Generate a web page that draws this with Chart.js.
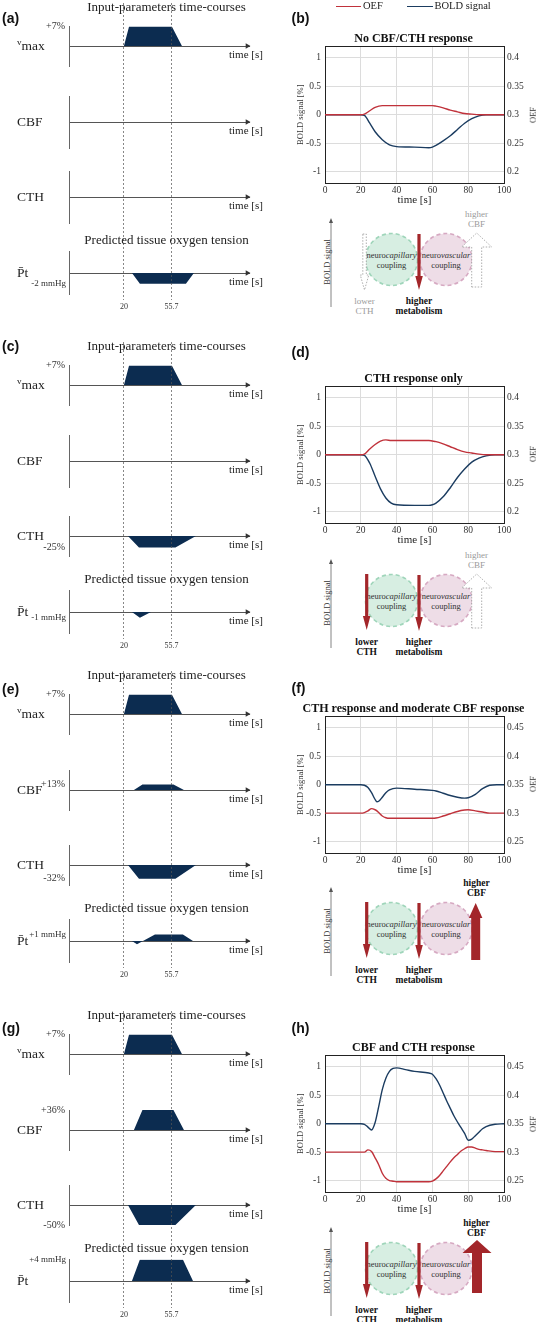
<!DOCTYPE html>
<html>
<head>
<meta charset="utf-8">
<script src="https://cdn.jsdelivr.net/npm/chart.js@4.4.1/dist/chart.umd.min.js"></script>
<style>
body{margin:0;background:#fff;}
#page{position:relative;width:537px;height:1322px;overflow:hidden;font-family:'Liberation Serif','Times New Roman',serif;color:#222;}
#page canvas{position:absolute;}
.t{position:absolute;white-space:nowrap;line-height:1;}
.lbl{font-family:'Liberation Sans',Arial,sans-serif;font-weight:bold;font-size:14px;color:#111;}
</style>
</head>
<body>
<div id="page"><svg id="diag" width="537" height="1322" style="position:absolute;left:0;top:0;font-family:'Liberation Serif',serif"></svg></div>
<script>
// ---- input-parameter time courses (left column) ----
var inT0 = -21.3, inT1 = 114;      // span of the small time axes, s
var markTimes = [20, 55.7];         // dashed reference times, s
var inputNames = ['<span style="font-size:9px;position:relative;top:-5px">v</span>max', 'CBF', 'CTH', 'P\u0304t'];

// vertices: [time s, drawn height relative to axis half-height]
var vmaxOn = [[20,0],[23.8,0.96],[56.1,0.96],[63.6,0]];
var ptA  = [[26,0],[32,-0.5],[66.6,-0.5],[72.6,0]];
var cthC = [[23,0],[31.3,-0.58],[58.7,-0.58],[74.1,0]];
var ptC  = [[26,0],[32,-0.27],[40.3,0]];
var cbfE = [[27.5,0],[33.9,0.28],[57.2,0.28],[65.1,0]];
var cthE = [[23,0],[31.3,-0.69],[58.7,-0.69],[74.1,0]];
var ptE  = [[26,0],[29.8,-0.15],[34.3,0],[43.3,0.3],[64.3,0.3],[71.9,0]];
var cbfG = [[27.5,0],[33.9,1],[57.2,1],[65.1,0]];
var cthG = [[23,0],[31.3,-1],[58.7,-1],[74.1,0]];
var ptG  = [[26,0],[32,1],[64.3,1],[71.9,0]];

var courses = [
  [vmaxOn, [], [], ptA],
  [vmaxOn, [], cthC, ptC],
  [vmaxOn, cbfE, cthE, ptE],
  [vmaxOn, cbfG, cthG, ptG]
];
var courseTicks = [
  ['+7%', '', '', '-2 mmHg'],
  ['+7%', '', '-25%', '-1 mmHg'],
  ['+7%', '+13%', '-32%', '+1 mmHg'],
  ['+7%', '+36%', '-50%', '+4 mmHg']
];

// ---- BOLD / OEF responses (right column) ----
var respTitles = ['No CBF/CTH response', 'CTH response only', 'CTH response and moderate CBF response', 'CBF and CTH response'];
var boldRange = [-1.2, 1.2];
var oefRange = [[0.18, 0.42], [0.18, 0.42], [0.23, 0.47], [0.23, 0.47]];

var tB    = [0, 20, 22, 25, 28, 32, 36, 40, 50, 58, 60, 62, 66, 70, 74, 78, 82, 86, 90, 100];
var boldB = [0, 0, -0.01, -0.15, -0.3, -0.44, -0.53, -0.56, -0.57, -0.58, -0.57, -0.54, -0.46, -0.37, -0.26, -0.15, -0.07, -0.02, 0, 0];
var oefB  = [0.3, 0.3, 0.301, 0.307, 0.313, 0.316, 0.316, 0.316, 0.316, 0.316, 0.316, 0.315, 0.312, 0.308, 0.305, 0.302, 0.301, 0.3, 0.3, 0.3];

var tD    = [0, 20, 22, 25, 28, 31, 34, 37, 40, 50, 58, 60, 62, 66, 70, 74, 78, 82, 86, 90, 95, 100];
var boldD = [0, 0, -0.01, -0.15, -0.38, -0.6, -0.76, -0.85, -0.88, -0.89, -0.89, -0.88, -0.85, -0.74, -0.58, -0.4, -0.25, -0.13, -0.06, -0.02, 0, 0];
var oefD  = [0.3, 0.3, 0.301, 0.31, 0.318, 0.324, 0.326, 0.325, 0.325, 0.325, 0.325, 0.324, 0.323, 0.319, 0.314, 0.309, 0.305, 0.303, 0.301, 0.3, 0.3, 0.3];

var tF    = [0, 20, 22, 24, 26, 28, 29, 30, 32, 34, 36, 40, 50, 60, 62, 66, 70, 74, 78, 80, 84, 88, 92, 96, 100];
var boldF = [0, 0, -0.01, -0.05, -0.14, -0.26, -0.3, -0.29, -0.22, -0.14, -0.09, -0.06, -0.08, -0.1, -0.11, -0.15, -0.19, -0.22, -0.235, -0.23, -0.17, -0.07, -0.01, 0, 0];
var oefF  = [0.3, 0.3, 0.301, 0.304, 0.308, 0.306, 0.304, 0.301, 0.295, 0.292, 0.291, 0.291, 0.291, 0.291, 0.2915, 0.295, 0.299, 0.303, 0.3055, 0.306, 0.304, 0.302, 0.3, 0.3, 0.3];

var tH    = [0, 20, 22, 24, 26, 28, 30, 32, 34, 36, 38, 40, 45, 50, 58, 60, 62, 64, 66, 68, 70, 72, 74, 76, 78, 80, 82, 84, 86, 88, 90, 95, 100];
var boldH = [0, 0, -0.01, -0.06, -0.11, 0.02, 0.3, 0.6, 0.8, 0.92, 0.97, 0.98, 0.95, 0.92, 0.89, 0.87, 0.79, 0.68, 0.54, 0.4, 0.27, 0.14, 0.03, -0.07, -0.17, -0.29, -0.27, -0.21, -0.15, -0.09, -0.05, -0.01, 0];
var oefH  = [0.3, 0.3, 0.3, 0.304, 0.301, 0.29, 0.278, 0.263, 0.254, 0.25, 0.249, 0.248, 0.248, 0.248, 0.248, 0.249, 0.253, 0.259, 0.267, 0.275, 0.283, 0.29, 0.296, 0.302, 0.306, 0.309, 0.309, 0.307, 0.305, 0.304, 0.303, 0.301, 0.301];

var respT = [tB, tD, tF, tH];
var respBold = [boldB, boldD, boldF, boldH];
var respOef = [oefB, oefD, oefF, oefH];

// ---- layout ----
var NAVY = '#0c2c50', RED = '#c0323b', BLUE = '#1b3c60', DARKRED = '#a3262a', GREY = '#9a9a9a';
var leftTop = [0, 339, 668, 1008];
var subBase = [46, 122, 197, 273];
var leftLetterY = [17.5, 345.7, 689.3, 1028.3];
var rightLetterY = [18.3, 351.7, 688.3, 1028.3];
var plotTop = [46.7, 386, 716, 1055.7];
var plotH = 136.5;
var diagTop = [0, 341, 669, 1009];
var letters = ['(a)','(b)','(c)','(d)','(e)','(f)','(g)','(h)'];

Chart.defaults.font.family = "'Liberation Serif','Times New Roman',serif";
Chart.defaults.color = '#222';

var page = document.getElementById('page');

function addCanvas(x, y, w, h) {
  var c = document.createElement('canvas');
  c.width = w; c.height = h;
  c.style.left = x + 'px'; c.style.top = y + 'px';
  c.style.width = w + 'px'; c.style.height = h + 'px';
  page.appendChild(c);
  return c;
}

function txt(x, y, html, css, align, cls) {
  var d = document.createElement('div');
  d.className = 't' + (cls ? ' ' + cls : '');
  d.innerHTML = html;
  if (css) d.style.cssText = css;
  d.style.left = x + 'px'; d.style.top = y + 'px';
  var tx = align === 'c' ? '-50%' : (align === 'r' ? '-100%' : '0');
  d.style.transform = 'translate(' + tx + ',-50%)';
  page.appendChild(d);
  return d;
}

function plainNum(v) { return String(+(+v).toFixed(3)); }

function inputChart(base, course, tick) {
  var c = addCanvas(0, base - 30, 270, 60);
  var pts = [[inT0, 0]].concat(course, [[inT1, 0]]).map(function(p){ return {x: p[0], y: p[1]}; });
  var tickVal = null;
  if (tick) {
    var ys = course.map(function(p){ return p[1]; });
    tickVal = tick.charAt(0) === '+' ? Math.max.apply(null, ys) : Math.min.apply(null, ys);
  }
  var small = tick.indexOf('mmHg') >= 0;
  new Chart(c, {
    type: 'line',
    data: {datasets: [
      {data: pts, fill: 'origin', backgroundColor: NAVY, borderWidth: 0, pointRadius: 0, tension: 0},
      {type: 'scatter', data: [{x: inT1 - 1.3, y: 0}], pointStyle: 'triangle', rotation: 90,
       pointRadius: 3.2, backgroundColor: '#333', borderWidth: 0, clip: false}
    ]},
    options: {
      animation: false, responsive: false, devicePixelRatio: 1,
      layout: {padding: {top: 4, bottom: 4, left: 0, right: 21}},
      plugins: {legend: {display: false}, tooltip: {enabled: false}},
      scales: {
        x: {type: 'linear', min: inT0, max: inT1, position: {y: 0},
            ticks: {display: false}, grid: {display: false, drawTicks: false},
            border: {color: '#555', width: 1}},
        y: {min: -1, max: 1,
            grid: {display: false, drawTicks: false},
            border: {color: '#666', width: 1},
            ticks: {display: !!tick, padding: small ? 3 : 4, font: {size: small ? 9 : 10}, color: '#333',
                    callback: function(){ return tick; }},
            afterBuildTicks: function(s){ if (tickVal !== null) s.ticks = [{value: tickVal}]; },
            afterFit: function(s){ s.width = 69; }}
      }
    }
  });
}

function markChart(top) {
  var c = addCanvas(0, top, 270, 315);
  new Chart(c, {
    type: 'scatter',
    data: {datasets: []},
    options: {
      animation: false, responsive: false, devicePixelRatio: 1,
      layout: {padding: {top: 3, left: 69, right: 21, bottom: 0}},
      plugins: {legend: {display: false}, tooltip: {enabled: false}},
      scales: {
        x: {type: 'linear', min: inT0, max: inT1,
            afterBuildTicks: function(s){ s.ticks = markTimes.map(function(v){ return {value: v}; }); },
            afterFit: function(s){ s.height = 15; },
            grid: {color: '#555', lineWidth: 0.7, drawTicks: false},
            border: {display: false, dash: [2, 2]},
            ticks: {padding: 2, font: {size: 8}, color: '#333', callback: function(v){ return String(v); }}},
        y: {display: false, min: 0, max: 1}
      }
    }
  });
}

function respChart(i) {
  var top = Math.round(plotTop[i] - 16.4);
  var c = addCanvas(290, top, 247, Math.round(16.4 + plotH + 25));
  var t = respT[i];
  new Chart(c, {
    type: 'line',
    data: {datasets: [
      {label: 'OEF', yAxisID: 'yR', data: t.map(function(x, k){ return {x: x, y: respOef[i][k]}; }),
       borderColor: RED, borderWidth: 1.4, pointRadius: 0, cubicInterpolationMode: 'monotone'},
      {label: 'BOLD signal', yAxisID: 'y', data: t.map(function(x, k){ return {x: x, y: respBold[i][k]}; }),
       borderColor: BLUE, borderWidth: 1.4, pointRadius: 0, cubicInterpolationMode: 'monotone'}
    ]},
    options: {
      animation: false, responsive: false, devicePixelRatio: 1,
      layout: {padding: 0},
      plugins: {
        legend: {display: false}, tooltip: {enabled: false},
        title: {display: true, text: respTitles[i], color: '#111',
                font: {size: 12, weight: 'bold'}, padding: {top: 2, bottom: 0}}
      },
      scales: {
        x: {type: 'linear', min: 0, max: 100,
            ticks: {stepSize: 20, padding: 2, font: {size: 9.5}, color: '#333'},
            grid: {color: '#dcdcdc', drawTicks: false},
            border: {color: '#222', width: 1},
            title: {display: true, text: 'time [s]', font: {size: 11}, color: '#222', padding: {top: 0, bottom: 1}},
            afterFit: function(s){ s.height = 25; }},
        xTop: {type: 'linear', position: 'top', min: 0, max: 100,
               ticks: {display: false}, grid: {display: false, drawTicks: false},
               border: {color: '#222', width: 1},
               afterFit: function(s){ s.height = 0; }},
        y: {min: boldRange[0], max: boldRange[1],
            ticks: {stepSize: 0.5, includeBounds: false, padding: 4, font: {size: 9.5}, color: '#333', callback: plainNum},
            grid: {color: '#dcdcdc', drawTicks: false},
            border: {color: '#222', width: 1},
            title: {display: true, text: 'BOLD signal [%]', font: {size: 8.5}, color: '#333', padding: {top: 6, bottom: 0}},
            afterFit: function(s){ s.width = 35; }},
        yR: {position: 'right', min: oefRange[i][0], max: oefRange[i][1],
             ticks: {stepSize: 0.05, includeBounds: false, padding: 3, font: {size: 9.5}, color: '#333', callback: plainNum},
             grid: {display: false, drawTicks: false},
             border: {color: '#222', width: 1},
             afterFit: function(s){ s.width = 33; }}
      }
    }
  });
  // right axis label, read bottom-to-top as in the source
  txt(533, plotTop[i] + plotH / 2, 'OEF', 'font-size:8.5px;color:#333', 'l')
    .style.transform = 'translate(-50%,-50%) rotate(-90deg)';
}

function arrowPts(x, yTail, yTip, sw, hw, hl) {
  var d = yTip > yTail ? 1 : -1;
  var yb = yTip - d * hl;
  return [[x - sw/2, yTail], [x + sw/2, yTail], [x + sw/2, yb], [x + hw/2, yb], [x, yTip], [x - hw/2, yb], [x - sw/2, yb]]
    .map(function(p){ return p[0].toFixed(1) + ',' + p[1].toFixed(1); }).join(' ');
}

var svgParts = [];
function diagram(i) {
  var dy = diagTop[i];
  var s = '';
  var hollow = 'fill="#fff" stroke="#9a9a9a" stroke-width="0.8" stroke-dasharray="1.5 1.5"';
  var solid = 'fill="' + DARKRED + '"';
  // BOLD signal axis
  s += '<line x1="331" y1="' + (dy + 307) + '" x2="331" y2="' + (dy + 222) + '" stroke="#666" stroke-width="0.8"/>';
  s += '<polygon points="329,' + (dy + 223) + ' 333,' + (dy + 223) + ' 331,' + (dy + 218) + '" fill="#555"/>';
  s += '<text transform="translate(329.5 ' + (dy + 262) + ') rotate(-90)" text-anchor="middle" font-size="8.5" fill="#333">BOLD signal</text>';
  // coupling circles
  s += '<circle cx="391.5" cy="' + (dy + 259.5) + '" r="26" fill="#d7eee2" stroke="#9fd5ba" stroke-width="1.6" stroke-dasharray="4 3"/>';
  s += '<circle cx="446" cy="' + (dy + 259.5) + '" r="26" fill="#eedde7" stroke="#d6a9c2" stroke-width="1.6" stroke-dasharray="4 3"/>';
  s += '<text x="391.5" y="' + (dy + 257.5) + '" text-anchor="middle" font-size="8.5" fill="#333">neuro<tspan font-style="italic">capillary</tspan></text>';
  s += '<text x="391.5" y="' + (dy + 267.5) + '" text-anchor="middle" font-size="8.5" fill="#333">coupling</text>';
  s += '<text x="446" y="' + (dy + 257.5) + '" text-anchor="middle" font-size="8.5" fill="#333">neuro<tspan font-style="italic">vascular</tspan></text>';
  s += '<text x="446" y="' + (dy + 267.5) + '" text-anchor="middle" font-size="8.5" fill="#333">coupling</text>';
  // CTH arrow
  if (i === 0) s += '<polygon points="' + arrowPts(364.5, dy + 234, dy + 290, 3.5, 8.5, 15) + '" ' + hollow + '/>';
  else s += '<polygon points="' + arrowPts(366.7, dy + 233, dy + 289, 3.3, 7.5, 14) + '" ' + solid + '/>';
  // metabolism arrow
  s += '<polygon points="' + arrowPts(419, dy + 234, dy + 290, 3.3, 7.5, 14) + '" ' + solid + '/>';
  // CBF arrow
  if (i < 2) s += '<polygon points="' + arrowPts(476.7, dy + 287, dy + 233, 10, 30, 14) + '" ' + hollow + '/>';
  else if (i === 2) s += '<polygon points="' + arrowPts(475.7, dy + 291, dy + 234, 9, 13.5, 15) + '" ' + solid + '/>';
  else s += '<polygon points="' + arrowPts(477, dy + 284, dy + 231, 10, 29, 13) + '" ' + solid + '/>';
  // labels
  var cbfStyle = i < 2 ? 'fill="' + GREY + '" font-size="9"' : 'fill="#111" font-size="9.5" font-weight="bold"';
  s += '<text x="476.5" y="' + (dy + 217) + '" text-anchor="middle" ' + cbfStyle + '>higher</text>';
  s += '<text x="476.5" y="' + (dy + 227) + '" text-anchor="middle" ' + cbfStyle + '>CBF</text>';
  var cthStyle = i === 0 ? 'fill="' + GREY + '" font-size="9"' : 'fill="#111" font-size="9.5" font-weight="bold"';
  var cx = i === 0 ? 364.5 : 366.7;
  s += '<text x="' + cx + '" y="' + (dy + 303.5) + '" text-anchor="middle" ' + cthStyle + '>lower</text>';
  s += '<text x="' + cx + '" y="' + (dy + 313.5) + '" text-anchor="middle" ' + cthStyle + '>CTH</text>';
  s += '<text x="419" y="' + (dy + 303.5) + '" text-anchor="middle" fill="#111" font-size="9.5" font-weight="bold">higher</text>';
  s += '<text x="419" y="' + (dy + 313.5) + '" text-anchor="middle" fill="#111" font-size="9.5" font-weight="bold">metabolism</text>';
  svgParts.push(s);
}

for (var g = 0; g < 4; g++) {
  var go = leftTop[g];
  for (var k = 0; k < 4; k++) {
    inputChart(go + subBase[k], courses[g][k], courseTicks[g][k]);
  }
  markChart(go);
  respChart(g);
  diagram(g);

  txt(2, leftLetterY[g], letters[2 * g], null, 'l', 'lbl');
  txt(291.5, rightLetterY[g], letters[2 * g + 1], null, 'l', 'lbl');

  txt(166.5, go + 5.7, 'Input-parameters time-courses', 'font-size:13px', 'c');
  txt(166.5, go + 238.5, 'Predicted tissue oxygen tension', 'font-size:13px', 'c');
  for (var k2 = 0; k2 < 4; k2++) {
    txt(17, go + subBase[k2] - 0.5, inputNames[k2], 'font-size:13.5px', 'l');
    txt(229, go + subBase[k2] + 8.3, 'time [s]', 'font-size:11px', 'l');
  }
}
document.getElementById('diag').innerHTML = svgParts.join('');

// legend
var l1 = document.createElement('div');
l1.style.cssText = 'position:absolute;left:336px;top:5.6px;width:25px;height:1.4px;background:' + RED;
page.appendChild(l1);
var l2 = document.createElement('div');
l2.style.cssText = 'position:absolute;left:407px;top:5.6px;width:26px;height:1.4px;background:' + BLUE;
page.appendChild(l2);
txt(363, 6.3, 'OEF', 'font-size:10.5px', 'l');
txt(434.5, 6.3, 'BOLD signal', 'font-size:10.5px', 'l');
</script>
</body>
</html>
